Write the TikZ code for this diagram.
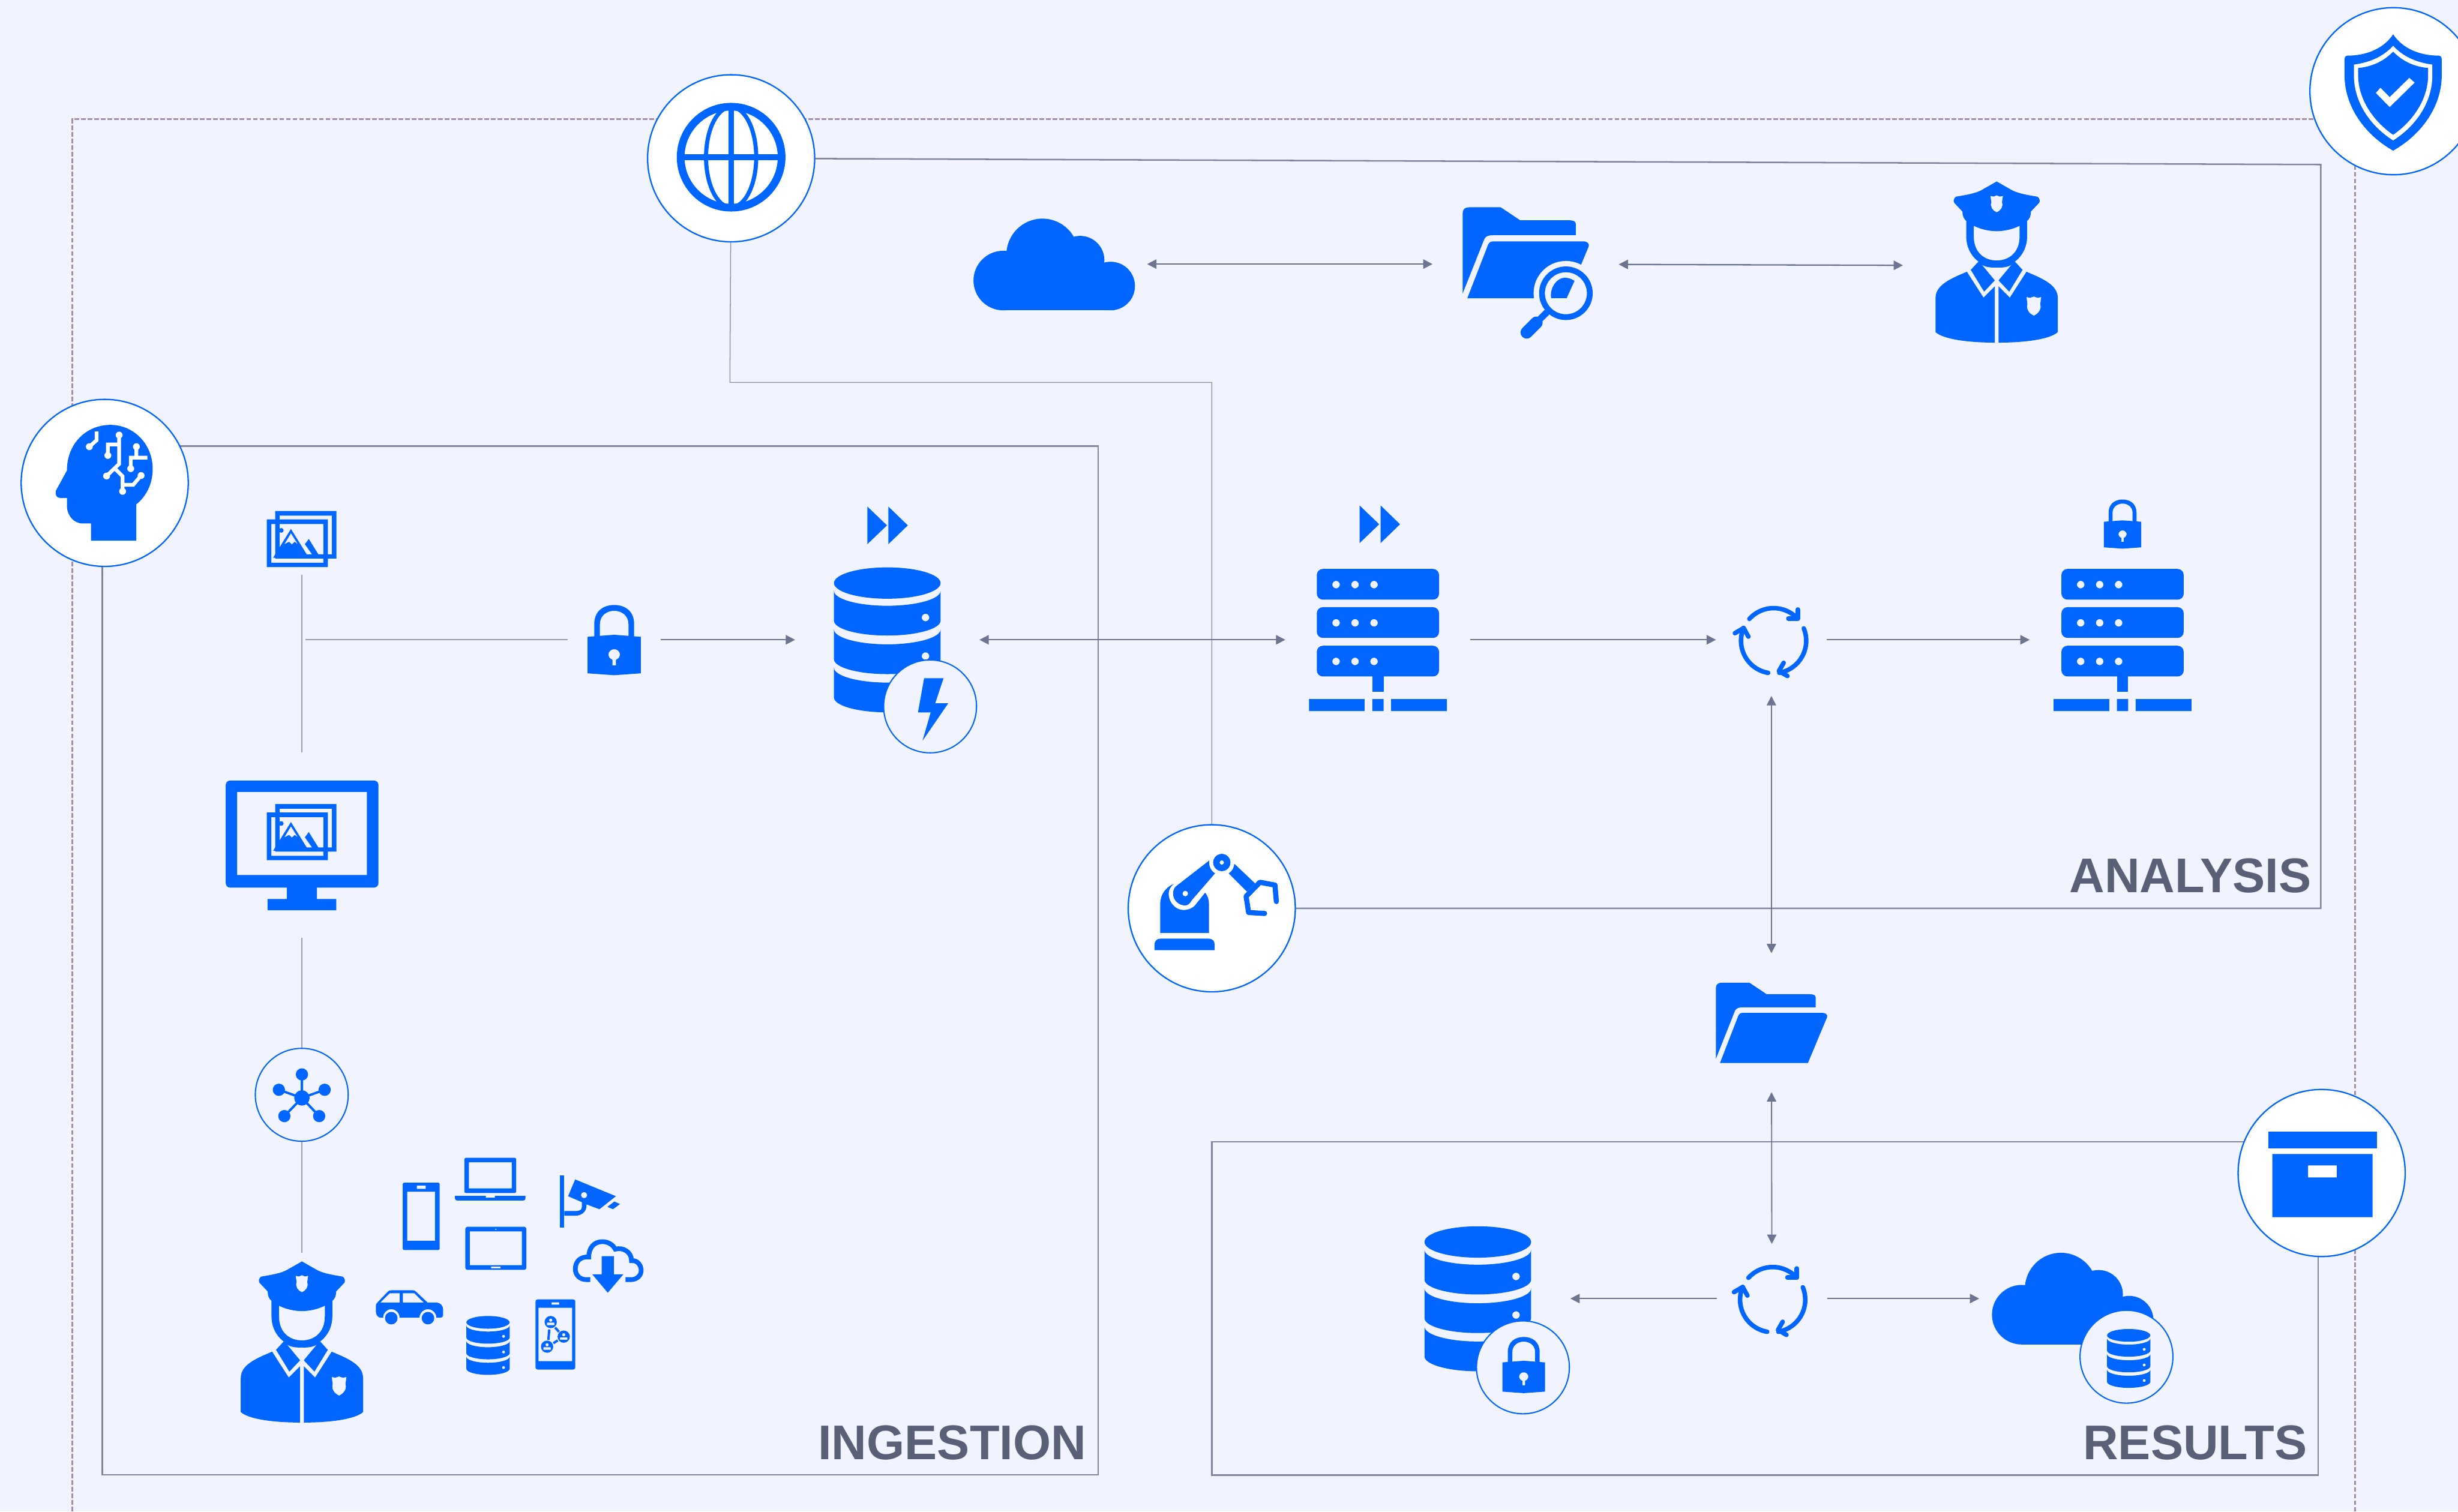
\documentclass[tikz,border=0pt]{standalone}
\usepackage{fontspec}
\setmainfont{Liberation Sans}
\usetikzlibrary{backgrounds,arrows.meta}
\definecolor{bgc}{HTML}{F1F4FE}
\definecolor{iconc}{HTML}{0066FF}
\definecolor{linec}{HTML}{6E7590}
\definecolor{dashc}{HTML}{A58CAB}
\definecolor{labelc}{HTML}{5A6078}
\def\uu{0.5669pt}
\newcommand{\dbseg}[1]{(-34,#1) .. controls (-34,#1+5.2) and (-18.8,#1+9.5) .. (0,#1+9.5) .. controls (18.8,#1+9.5) and (34,#1+5.2) .. (34,#1) -- (34,#1+19) .. controls (34,#1+24.2) and (18.8,#1+28.5) .. (0,#1+28.5) .. controls (-18.8,#1+28.5) and (-34,#1+24.2) .. (-34,#1+19) -- cycle (24.4,#1+17) circle[radius=2.4]}
\tikzset{
  iconbox/.style 2 args={rectangle,inner sep=0pt,outer sep=0pt,minimum width=#1*\uu,minimum height=#2*\uu},
  badge/.style={circle,draw=iconc,line width=.5pt,fill=white,minimum size=107*\uu,inner sep=0pt,outer sep=0pt},
  minibadge/.style={circle,draw=iconc,line width=.45pt,fill=bgc,minimum size=59.5*\uu,inner sep=0pt,outer sep=0pt},
  boxline/.style={linec!88,line width=.55pt,line join=miter},
  thinline/.style={linec!75,line width=.33pt},
  plainline/.style={linec!70,line width=.4pt},
  arr/.style={linec,line width=.5pt,-{Triangle[length=3.4pt,width=3.4pt]}},
  biarr/.style={linec,line width=.5pt,{Triangle[length=3.4pt,width=3.4pt]}-{Triangle[length=3.4pt,width=3.4pt]}},
  dashline/.style={dashc,line width=.55pt,dash pattern=on 1.7pt off .7pt},
  title/.style={labelc,font=\bfseries\fontsize{17.7}{20}\selectfont,anchor=base east,inner sep=0pt},
  rotstroke/.style={iconc,line width=1.64pt,line cap=round,line join=round},
  pics/servericon/.style={code={
    \foreach \t in {-45,-20.6,4}{
      \fill[iconc,even odd rule,rounded corners=2.2pt] (-39,\t) rectangle (39,\t+19.6)
        [sharp corners] (-26.7,\t+10) circle[radius=2.4] (-14.6,\t+10) circle[radius=2.4] (-2.5,\t+10) circle[radius=2.4];}
    \fill[iconc] (-3.6,23) rectangle (3.6,33.3);
    \fill[iconc] (-44,38) rectangle (-8.5,45.7) (-3.6,38) rectangle (3.6,45.7) (8.4,38) rectangle (44,45.7);
  }},
  pics/dbicon/.style={code={
    \fill[iconc] (0,-36) ellipse[x radius=34,y radius=10];
    \fill[iconc,even odd rule] \dbseg{-31};
    \fill[iconc,even odd rule] \dbseg{-6.4};
    \fill[iconc,even odd rule] \dbseg{18};
  }},
  pics/cloudicon/.style={code={
    \fill[iconc] (-32.5,10.5) circle[radius=19] (36,14) circle[radius=15.5] (-7.5,-6) circle[radius=23] (16.5,-2.5) circle[radius=15.5];
    \fill[iconc] (-32.5,5) rectangle (36,29.5);
  }},
  pics/foldericon/.style={code={
    \fill[iconc] (-35.4,-21.7) .. controls (-35.4,-24) and (-34,-25) .. (-31.7,-25) -- (-14,-25) -- (-3.1,-17.7) -- (24,-17.7) .. controls (27,-17.7) and (28.2,-17) .. (28.2,-15.7) -- (28.2,-9.3) -- (-18,-9.3) .. controls (-20.5,-9.3) and (-22.3,-9) .. (-23.2,-7.2) -- (-35.4,23.5) -- cycle;
    \fill[iconc] (-18.6,-5.8) -- (32.3,-5.8) .. controls (34.8,-5.8) and (36,-4.5) .. (35.5,-3) -- (23.3,26.2) -- (-32.8,26.2) -- (-21,-4.2) .. controls (-20.5,-5.2) and (-19.7,-5.8) .. (-18.6,-5.8) -- cycle;
  }},
  pics/lockicon/.style={code={
    \fill[iconc] (-12.7,0) -- (-12.7,-10) .. controls (-12.7,-18) and (-7,-22) .. (0,-22) .. controls (7,-22) and (12.7,-18) .. (12.7,-10) -- (12.7,0) -- (9.1,0) -- (9.1,-10) .. controls (9.1,-15) and (5,-18.3) .. (0,-18.3) .. controls (-5,-18.3) and (-9.1,-15) .. (-9.1,-10) -- (-9.1,0) -- cycle;
    \fill[iconc,even odd rule] (-17,-1.7) -- (0,-3) -- (17,-1.7) -- (17,21.6) -- (0,22.8) -- (-17,21.6) -- cycle
      (-1.1,13) .. controls (-3,12) and (-3.7,11) .. (-3.7,9.8) .. controls (-3.7,7.6) and (-2,6.2) .. (0,6.2) .. controls (2,6.2) and (3.7,7.6) .. (3.7,9.8) .. controls (3.7,11) and (3,12) .. (1.1,13) -- (1.1,16.6) -- (-1.1,16.6) -- cycle;
  }},
  pics/fastfwd/.style={code={
    \fill[iconc] (-12.7,-12) -- (-.2,0) -- (-12.7,12) -- cycle (.7,-12) -- (13.1,0) -- (.7,12) -- cycle;
  }},
  pics/rotateicon/.style={code={
    \draw[rotstroke] plot[domain=222:317.5,samples=24] (\x:20.8);
    \draw[rotstroke] (15.4,-19.9) -- (15.4,-14.1) -- (9.4,-14.1);
    \draw[rotstroke] plot[domain=337.7:440,samples=24] (\x:20.8);
    \draw[rotstroke] (6.4,14.1) -- (3.4,19.3) -- (8.8,22.5);
    \draw[rotstroke] plot[domain=99.7:203,samples=24] (\x:20.8);
    \draw[rotstroke] (-24.7,-4.8) -- (-19.1,-8.1) -- (-16.1,-2.6);
  }},
  pics/imagesicon/.style={code={
    \fill[iconc,even odd rule] (-16.4,-18) rectangle (22.6,12.4) (-13.7,-15) rectangle (19.7,9.7);
    \fill[iconc,even odd rule] (-21.8,-12.6) rectangle (17.2,17.8) (-18.9,-9.7) rectangle (14.3,15);
    \fill[iconc,even odd rule] (-6.4,-6.5) -- (-17.8,11.9) -- (5,11.9) -- cycle
      (-6.4,-3.8) -- (-10.6,3.2) -- (-7.6,1.7) -- (-5.8,3.4) -- (-4,1.7) -- (-2,3.2) -- cycle;
    \fill[iconc] (5,-.1) -- (12.2,11.5) -- (7,11.9) -- (7,9.6) -- (2.5,3.2) -- cycle;
    \fill[iconc] (-12.6,-5.6) circle[radius=1.5];
  }},
  pics/officericon/.style={code={
    \fill[iconc,even odd rule] (-19.4,-28) -- (-19.4,-17) .. controls (-19.4,-6) and (-11,2.7) .. (0,2.7) .. controls (11,2.7) and (19.4,-6) .. (19.4,-17) -- (19.4,-28) -- cycle
      (-14.6,-25) -- (-14.6,-17) .. controls (-14.6,-7) and (-8,-1.8) .. (0,-1.8) .. controls (8,-1.8) and (14.6,-7) .. (14.6,-17) -- (14.6,-25) -- cycle;
    \fill[iconc,even odd rule] (0,-52.2) -- (-10,-46.5) .. controls (-14,-44.5) and (-20,-43.5) .. (-26,-42.5) .. controls (-27.5,-41.5) and (-27.8,-39.5) .. (-27,-38.5) -- (-21.8,-33) .. controls (-21.8,-30) and (-21,-28.5) .. (-19.4,-27) .. controls (-14,-22.5) and (-6,-20.5) .. (0,-20.5) .. controls (6,-20.5) and (14,-22.5) .. (19.4,-27) .. controls (21,-28.5) and (21.8,-30) .. (21.8,-33) -- (27,-38.5) .. controls (27.8,-39.5) and (27.5,-41.5) .. (26,-42.5) .. controls (20,-43.5) and (14,-44.5) .. (10,-46.5) -- cycle
      (-4,-43) -- (-2,-42.6) -- (0,-43.4) -- (2,-42.6) -- (4,-43) -- (3.4,-39) .. controls (4.4,-36) and (2.5,-33.5) .. (0,-32.5) .. controls (-2.5,-33.5) and (-4.4,-36) .. (-3.4,-39) -- cycle;
    \fill[iconc] (-11.7,-1) -- (-16.5,4.2) -- (-8,18.1) -- (-1.2,10.9) -- (-9.8,.5) .. controls (-9,1.5) and (-6,3) .. (0,2.7) -- cycle;
    \fill[iconc] (11.7,-1) -- (16.5,4.2) -- (8,18.1) -- (1.2,10.9) -- (9.8,.5) .. controls (9,1.5) and (6,3) .. (0,2.7) -- cycle;
    \fill[iconc] (-19,5.4) .. controls (-30,10) and (-39,14) .. (-39,22.2) -- (-39,43.9) .. controls (-34,48.5) and (-18,50.6) .. (-1.2,50.6) -- (-1.2,14.7) -- (-8.4,21.9) -- cycle;
    \fill[iconc,even odd rule] (19,5.4) .. controls (30,10) and (39,14) .. (39,22.2) -- (39,43.9) .. controls (34,48.5) and (18,50.6) .. (1.2,50.6) -- (1.2,14.7) -- (8.4,21.9) -- cycle
      (19,21.5) -- (21.2,22) -- (23.7,21.2) -- (26.2,22) -- (28.4,21.5) -- (27.8,26) .. controls (28.8,29.5) and (26.5,32.2) .. (23.7,33.4) .. controls (20.9,32.2) and (18.6,29.5) .. (19.6,26) -- cycle;
  }}
}
\begin{document}
\begin{tikzpicture}[x=0.02cm,y=-0.02cm]
\useasboundingbox (0,0) rectangle (1568,964.4);

% ---- routing points
\coordinate (dashBL) at (46.2,964.4);
\coordinate (dashTL) at (46.2,76);
\coordinate (dashTR) at (1502.3,76);
\coordinate (dashBR) at (1502.3,964.4);
\coordinate (ingBL) at (65.2,941);
\coordinate (ingBR) at (700.5,941);
\coordinate (ingTR) at (700.5,284.7);
\coordinate (anaTR) at (1480.5,105);
\coordinate (anaBR) at (1480.5,579.5);
\coordinate (resTL) at (773,728.4);
\coordinate (resBL) at (773,941.2);
\coordinate (resBR) at (1478.7,941.2);
\coordinate (elbowA) at (465.6,244);
\coordinate (elbowB) at (773,244);
\coordinate (imgtap) at (195,408.2);

% ---- invisible boxes that connectors stop at
\node[iconbox={60}{46}] (imgbox) at (192.5,344) {};
\node[iconbox={110}{118.6}] (monitorbox) at (192.5,539.3) {};
\node[iconbox={90}{114.4}] (officerbox) at (192.5,856.4) {};
\node[iconbox={59.4}{50}] (lockbox) at (391.8,408.2) {};
\node[iconbox={118}{100}] (dbAbox) at (566,408.2) {};
\node[iconbox={118.6}{100}] (serverAbox) at (879,408.2) {};
\node[iconbox={71}{72}] (rotAbox) at (1130,408.2) {};
\node[iconbox={119}{100}] (serverBbox) at (1354,408.2) {};
\node[iconbox={80}{89}] (folderbox) at (1130,652.5) {};
\node[iconbox={70.6}{70}] (rotBbox) at (1130.3,828.5) {};
\node[iconbox={118.6}{100}] (dbBbox) at (942.7,828.5) {};
\node[iconbox={119.8}{70}] (cloudBbox) at (1322.2,828.5) {};
\node[iconbox={119}{60}] (cloudAbox) at (672.5,168.5) {};
\node[iconbox={119.2}{90}] (searchbox) at (973.2,168.5) {};
\node[iconbox={118.8}{100}] (officerAbox) at (1273.1,169.5) {};

% ---- icons and circles
\pic at (192,344) {imagesicon};
\fill[iconc,even odd rule,rounded corners=1.6pt] (144,498) rectangle (241.4,566.3) [sharp corners] (151.3,505.3) rectangle (234,558.3);
\fill[iconc] (183,566) rectangle (202.2,574) (170.7,573.6) rectangle (214.5,580.8);
\pic at (192,531) {imagesicon};

\node[minibadge] (network) at (192.5,698.5) {};
\fill[iconc] (192.6,700.5) circle[radius=4.9] (192.6,685.5) circle[radius=3.9] (177.9,695.3) circle[radius=3.9] (207.1,695.3) circle[radius=3.9] (181.4,712.1) circle[radius=3.9] (203.6,712.1) circle[radius=3.9];
\draw[iconc,line width=.85pt] (192.6,700.5) -- (192.6,685.5) (192.6,700.5) -- (177.9,695.3) (192.6,700.5) -- (207.1,695.3) (192.6,700.5) -- (181.4,712.1) (192.6,700.5) -- (203.6,712.1);

\pic at (192.6,857) {officericon};
\pic at (1273.7,168) {officericon};

% portrait phone
\fill[iconc,even odd rule,rounded corners=.5pt] (256.9,754.6) rectangle (280.5,797.5) [sharp corners] (259.8,760.3) rectangle (277.5,791.6) (265.9,756.4) rectangle (271.6,758.5);
% laptop
\fill[iconc,even odd rule,rounded corners=.6pt] (296.2,738.7) rectangle (329.3,761.2) [sharp corners] (299.1,741.6) rectangle (326.5,758.2);
\fill[iconc] (290.2,763) -- (309.9,763) -- (309.9,764.1) -- (315.7,764.1) -- (315.7,763) -- (335.2,763) -- (335.2,764.5) .. controls (335.2,765.5) and (334.6,766) .. (333.6,766) -- (291.8,766) .. controls (290.8,766) and (290.2,765.5) .. (290.2,764.5) -- cycle;
% landscape tablet
\fill[iconc,even odd rule,rounded corners=.8pt] (296.8,782.7) rectangle (335.8,810.2) [sharp corners] (299.7,785.7) rectangle (332.9,807.2) (313.3,808.1) rectangle (319.3,809.2) (316.3,784.3) circle[radius=.5];
% camera
\fill[iconc] (357,749.9) rectangle (360,783.1);
\fill[iconc,even odd rule] (366.9,752.5) -- (392.9,763.2) -- (382.4,771.5) -- (374.1,768.4) -- (374.1,769.4) .. controls (374.1,773) and (371,775.6) .. (367.2,775.6) -- (360,775.6) -- (360,772.7) -- (367.2,772.7) .. controls (369.5,772.7) and (371.2,772) .. (371.2,770) -- (371.2,767) -- (362.4,763.2) -- cycle (372.6,762.5) circle[radius=2];
\fill[iconc] (391.9,766.6) -- (395.5,768.2) -- (391,771.5) -- (387.5,770) -- cycle;
% cloud download
\draw[iconc,line width=1.7pt] (376.5,816.4) -- (373.8,816.4) .. controls (370,816.4) and (367,813.5) .. (367,809.7) .. controls (367,805) and (370,801.6) .. (375.6,802) .. controls (375.6,796) and (379,792.2) .. (384.3,792.2) .. controls (388,792.2) and (391,794.2) .. (392.5,797) .. controls (397.5,795.5) and (403,799) .. (402.8,804.3) .. controls (406.5,804) and (409,807) .. (409,810.6) .. controls (409,814) and (406,816.4) .. (402.7,816.4) -- (399,816.4);
\fill[iconc] (383.8,801.5) -- (391.7,801.5) -- (391.7,813) -- (397.7,813) -- (387.7,824.8) -- (377.8,813) -- (383.8,813) -- cycle;
% car
\fill[iconc,even odd rule] (239.8,833) .. controls (239.8,832.3) and (240,831.8) .. (240.6,831.2) -- (247,824.5) .. controls (247.8,823.6) and (248.4,823.2) .. (249.6,823.2) -- (263.3,823.2) .. controls (264.3,823.2) and (265,823.6) .. (265.8,824.5) -- (272.7,831) -- (278.1,831) .. controls (280.8,831) and (282.7,833) .. (282.7,835.6) -- (282.7,839) .. controls (282.7,840) and (282,840.7) .. (281.1,840.7) -- (278.4,840.7) .. controls (278.4,837.7) and (276,835.3) .. (273,835.3) .. controls (270,835.3) and (267.6,837.7) .. (267.6,840.7) -- (254.9,840.7) .. controls (254.9,837.7) and (252.6,835.3) .. (249.6,835.3) .. controls (246.7,835.3) and (244.4,837.7) .. (244.4,840.7) -- (243,840.7) .. controls (241,840.7) and (239.8,839) .. (239.8,836.8) -- cycle
  (242.6,831) -- (248.6,825.1) -- (255,825.1) -- (255,831) -- cycle (257,825.1) -- (264.3,825.1) -- (270.3,831) -- (257,831) -- cycle;
\fill[iconc] (249.6,841) circle[radius=4] (273,841) circle[radius=4];
% small database
\pic[scale=.406] at (311.3,858.3) {dbicon};
% phone with contacts
\fill[iconc,even odd rule,rounded corners=.8pt] (341.6,829) rectangle (367,873.8) [sharp corners] (343.5,834.4) rectangle (365,868.5) (351.8,830.9) rectangle (356.7,832.4);
\foreach \px/\py in {351.3/843.5,359.6/852.8,349/859.2}{
  \fill[iconc,even odd rule] (\px,\py) circle[radius=3.9] (\px,\py-1.2) circle[radius=1.05] (\px-2.3,\py+.4) -- (\px+2.3,\py+.4) -- (\px+2.4,\py+2) -- (\px-2.4,\py+2) -- cycle;
}
\draw[iconc,line width=.85pt] (350.4,848.2) -- (349.8,854.9) (354.1,847) -- (356.6,849.7) (353,857) -- (355.8,855.2);

% ingestion row
\pic at (391.8,408) {lockicon};
\pic at (566,335.2) {fastfwd};
\pic at (566,408) {dbicon};
\node[minibadge] (boltbadge) at (593.3,450.7) {};
\fill[iconc] (589.5,432.7) -- (601.9,432.7) -- (596.6,448.7) -- (604.9,448.7) -- (588.5,472.6) -- (593.7,454.5) -- (585.6,454.5) -- cycle;

% analysis row
\pic at (880,334.5) {fastfwd};
\pic at (879,408) {servericon};
\pic at (1131.4,408.8) {rotateicon};
\pic[scale=.7] at (1354,334.1) {lockicon};
\pic at (1354,408) {servericon};

% top row
\pic at (672.5,168.5) {cloudicon};
\pic[scale=1.134] at (973.2,160.6) {foldericon};
\begin{scope}[shift={(998.9,187.1)}]
\fill[bgc] (0,0) circle[radius=20.6];
\draw[iconc,line width=2.1pt] (0,0) circle[radius=15.25];
\draw[iconc,line width=2.4pt] (-12,12) -- (-17.5,17.5);
\draw[iconc,line width=4.5pt,line cap=round] (-18.8,18.8) -- (-25,25);
\fill[iconc] (-9.4,3.1) .. controls (-10.5,-3) and (-6,-9.9) .. (-.7,-9.9) .. controls (1.5,-9.9) and (4,-9) .. (5.5,-7.9) -- (.5,3.1) -- cycle;
\end{scope}

% results
\pic at (1130,652) {foldericon};
\pic at (942.7,828.4) {dbicon};
\node[minibadge] (lockbadge) at (971.5,872.4) {};
\pic[scale=.8] at (972,870.6) {lockicon};
\pic at (1130.8,829.2) {rotateicon};
\pic at (1322.2,828.3) {cloudicon};
\node[minibadge] (dbbadge) at (1356.5,865.6) {};
\pic[scale=.406] at (1357.9,866.6) {dbicon};

% large badges
\node[badge] (brain) at (66.8,308.1) {};
\fill[iconc] (42.7,300.2) -- (35.7,313) .. controls (35,315.5) and (36,317.7) .. (38.4,317.7) -- (42.7,317.7) -- (42.7,323.3) .. controls (43,329) and (47,334) .. (52.9,334) -- (58,334) -- (58,345) -- (86.9,345) -- (86.9,321.8) .. controls (93,317) and (97.4,309) .. (97.4,299.3) .. controls (97.4,283) and (85,271.1) .. (70.5,271.1) .. controls (55,271.1) and (42.7,283) .. (42.7,300.2) -- cycle;
\draw[white,line width=1.35pt,line join=miter] (61.6,275.3) -- (61.6,280.9) -- (57,285)
  (76,277.6) -- (76,296) -- (68,303.7)
  (68.8,290.6) -- (68.8,283.6) -- (76,283.6)
  (87,285) -- (87,292) -- (83.4,292) -- (83.4,299)
  (87,292) -- (94,292)
  (73.6,299.3) -- (78.2,303.9) -- (78.2,313.5)
  (78.2,309.3) -- (85,309.3) -- (90,303.4);
\fill[white] (57,285) circle[radius=2.2] (76,277.6) circle[radius=2.2] (68.8,290.6) circle[radius=2.2] (68,303.7) circle[radius=2.2] (87,285) circle[radius=2.2] (83.4,299) circle[radius=2.2] (78.2,313.5) circle[radius=2.2] (90,303.4) circle[radius=2.2];

\node[badge] (globe) at (466.4,101) {};
\draw[iconc,line width=2.8pt] (466.4,100.3) circle[radius=32.2];
\draw[iconc,line width=1.5pt] (466.4,100.3) ellipse[x radius=16,y radius=32];
\draw[iconc,line width=2pt] (466.4,68) -- (466.4,132.6);
\draw[iconc,line width=2.15pt] (434.2,100.3) -- (498.6,100.3);

\node[badge] (shield) at (1526.8,58.2) {};
\begin{scope}[shift={(1526.6,58)}]
\fill[iconc] (0,-36.1) .. controls (-6,-27) and (-17,-22.5) .. (-29,-22.5) .. controls (-30.5,-22.3) and (-31,-21.5) .. (-31,-20.5) -- (-31,-10) .. controls (-31,10) and (-18,28) .. (0,38.1) .. controls (18,28) and (31,10) .. (31,-10) -- (31,-20.5) .. controls (31,-21.5) and (30.5,-22.3) .. (29,-22.5) .. controls (17,-22.5) and (6,-27) .. (0,-36.1) -- cycle;
\fill[white] (0,-28.8) .. controls (-6,-22) and (-15,-18) .. (-25,-16.8) -- (-25,-10) .. controls (-25,7) and (-15,22) .. (0,31.6) .. controls (15,22) and (25,7) .. (25,-10) -- (25,-16.8) .. controls (15,-18) and (6,-22) .. (0,-28.8) -- cycle;
\fill[iconc] (0,-25) .. controls (-6,-19) and (-13,-15.5) .. (-22.3,-14.6) -- (-22.3,-10) .. controls (-22.3,5) and (-13,19) .. (0,28) .. controls (13,19) and (22.3,5) .. (22.3,-10) -- (22.3,-14.6) .. controls (13,-15.5) and (6,-19) .. (0,-25) -- cycle;
\fill[white] (-11,1.3) -- (-2.2,10.3) -- (13.7,-5.3) -- (10.3,-8.3) -- (-2.2,4) -- (-8.1,-2) -- cycle;
\end{scope}

\node[badge] (robot) at (773,579.5) {};
% robot base
\fill[iconc] (736.5,606.2) -- (736.5,602.5) .. controls (736.5,600.4) and (738,598.9) .. (740.1,598.9) -- (771.2,598.9) .. controls (773.3,598.9) and (774.8,600.4) .. (774.8,602.5) -- (774.8,606.2) -- cycle;
% robot body, hollowed round the lower joint
\fill[iconc] (740.1,595.2) -- (740.1,576.7) .. controls (740.1,571) and (743.5,566) .. (748.9,563.9) .. controls (746.5,565.8) and (745.5,568) .. (745.5,570.1) .. controls (745.5,576) and (750,580.6) .. (754.9,580.6) .. controls (758,580.6) and (760.5,579.5) .. (762.1,577.9) -- (768.8,569.5) .. controls (770.4,571.5) and (771.2,574) .. (771.2,576.7) -- (771.2,595.2) -- cycle;
% robot lower arm
\fill[iconc,even odd rule] (749.9,565.7) -- (771.4,549) .. controls (771,552.5) and (772.3,555.5) .. (775.1,557.2) -- (760.3,574.3) .. controls (759,576.5) and (757.8,577.7) .. (756.1,577.7) .. controls (751.8,577.7) and (748.3,574.3) .. (748.3,570.1) .. controls (748.3,568.3) and (748.9,566.8) .. (749.9,565.7) -- cycle (756.1,570.1) circle[radius=1.8];
% robot upper joint
\fill[iconc,even odd rule] (779.4,550.3) circle[radius=5.5] (779.4,550.3) circle[radius=1.4];
% robot forearm and gripper
\fill[iconc] (787.4,551.1) .. controls (787.2,553.5) and (786,556) .. (783.8,557.2) -- (795.5,568.9) -- (800.7,563.7) -- cycle;
\draw[iconc,line width=1.85pt,line cap=round,line join=round] (814.2,575.2) -- (813.3,564.7) -- (803.7,562.9) -- (794.9,571.9) -- (796.5,582.2) -- (806.7,582.8);

\node[badge] (archive) at (1481,748.4) {};
\fill[iconc] (1446.9,721.8) rectangle (1516.2,732.8);
\fill[iconc,even odd rule] (1449.5,736.3) rectangle (1513.5,776.6) (1472.3,743.6) rectangle (1490.7,751.2);

% ---- titles
\node[title] (ingestion) at (693.3,931) {INGESTION};
\node[title] (analysis) at (1474.8,569.5) {ANALYSIS};
\node[title] (results) at (1472,931) {RESULTS};

% ---- lines beneath everything
\begin{scope}[on background layer]
\fill[bgc] (0,0) rectangle (1568,964.4);
\draw[dashline] (dashBL) -- (dashTL) -- (dashTR) -- (dashBR);
\draw[boxline] (ingBL |- brain) -- (ingBL) -- (ingBR) -- (ingTR) -- (ingTR -| brain);
\draw[boxline] (globe) -- (anaTR) -- (anaBR) -- (robot);
\draw[thinline] (globe) -- (elbowA) -- (elbowB) -- (robot);
\draw[boxline] (resTL -| archive) -- (resTL) -- (resBL) -- (resBR) -- (resBR |- archive);
\draw[plainline] (imgbox) -- (monitorbox);
\draw[plainline] (monitorbox) -- (network);
\draw[plainline] (network) -- (officerbox);
\draw[plainline] (imgtap) -- (lockbox);
\draw[arr] (lockbox) -- (dbAbox);
\draw[biarr] (dbAbox) -- (serverAbox);
\draw[arr] (serverAbox) -- (rotAbox);
\draw[arr] (rotAbox) -- (serverBbox);
\draw[biarr,line width=.4pt] (rotAbox) -- (folderbox);
\draw[biarr,line width=.4pt] (folderbox) -- (rotBbox);
\draw[arr] (rotBbox) -- (dbBbox);
\draw[arr] (rotBbox) -- (cloudBbox);
\draw[biarr] (cloudAbox) -- (searchbox);
\draw[biarr] (searchbox) -- (officerAbox);
\end{scope}
\end{tikzpicture}
\end{document}
